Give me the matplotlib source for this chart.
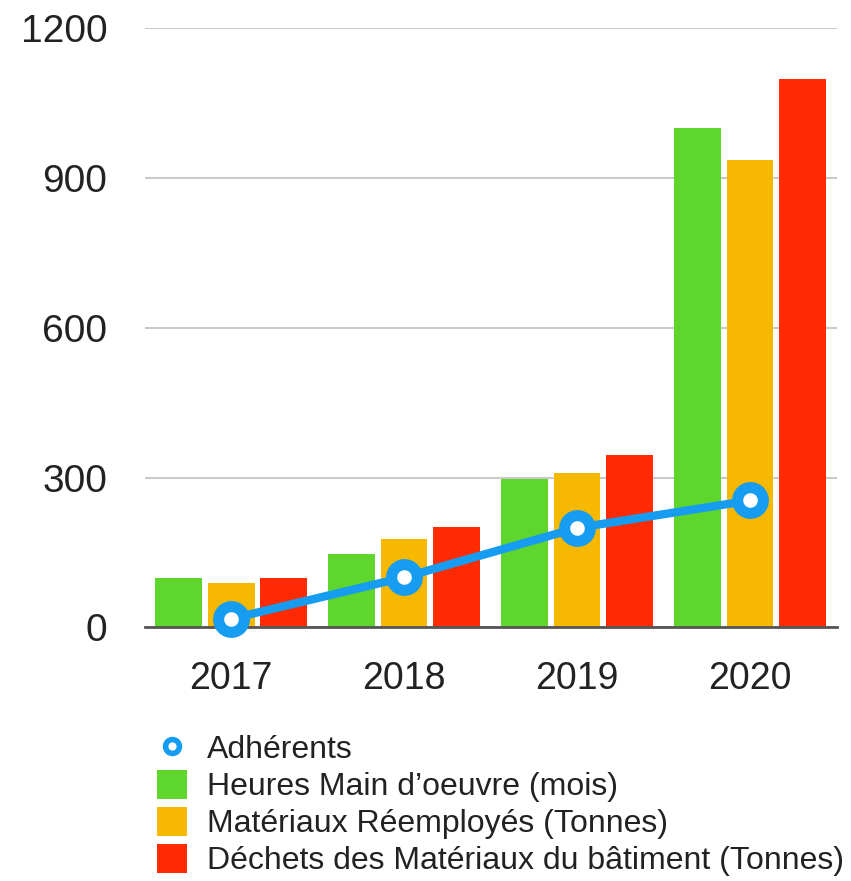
import matplotlib
matplotlib.use("Agg")
import matplotlib.pyplot as plt
from matplotlib.lines import Line2D
import numpy as np

plt.rcParams['font.family'] = ['Liberation Sans', 'DejaVu Sans']

years = ["2017", "2018", "2019", "2020"]
heures = [98, 147, 298, 1000]
materiaux = [88, 176, 310, 936]
dechets = [99, 200, 346, 1099]
adherents = [17, 100, 199, 254]
series_labels = ["Heures Main d\u2019oeuvre (mois)",
                 "Matériaux Réemployés (Tonnes)",
                 "Déchets des Matériaux du bâtiment (Tonnes)"]
line_label = "Adhérents"
yticks = [0, 300, 600, 900, 1200]

green, orange, red, blue = "#5ed62e", "#f6b800", "#ff2a00", "#169cf0"

fig = plt.figure(figsize=(8.51, 8.81), dpi=100)
ax = fig.add_axes([0.170, 0.288, 0.813, 0.680])

x = np.arange(len(years))
w = 0.27
off = 0.303
b1 = ax.bar(x - off, heures, w, color=green, zorder=2)
b2 = ax.bar(x, materiaux, w, color=orange, zorder=2)
b3 = ax.bar(x + off, dechets, w, color=red, zorder=2)
ax.plot(x, adherents, color=blue, lw=6, marker='o', ms=18.5, mew=8,
        mfc='white', mec=blue, zorder=4, clip_on=False)

ax.set_xlim(-0.5, 3.5)
ax.set_ylim(0, 1200)
ax.set_yticks(yticks)
ax.set_yticklabels([str(v) for v in yticks])
ax.set_xticks(x)
ax.set_xticklabels(years)
ax.yaxis.grid(True, color="#c9c9c9", lw=1.5, zorder=0)
ax.set_axisbelow(True)
for s in ["left", "right", "top"]:
    ax.spines[s].set_visible(False)
ax.spines["bottom"].set_color("#555555")
ax.spines["bottom"].set_linewidth(2)
ax.spines["bottom"].set_zorder(3)
ax.tick_params(axis='y', length=0, pad=27, labelsize=28, labelcolor="#222222")
ax.tick_params(axis='x', length=0, pad=24, labelsize=27, labelcolor="#222222")

proxy = Line2D([], [], linestyle='none', marker='o', ms=10, mew=4,
               mfc='white', mec=blue)
handles = [proxy, b1, b2, b3]
labels = [line_label] + series_labels
fig.legend(handles, labels, loc='upper left', bbox_to_anchor=(0.1845, 0.168),
           frameon=False, fontsize=23, handlelength=0.94, handleheight=1.0,
           handletextpad=0.63, labelspacing=0.15, borderpad=0, borderaxespad=0,
           labelcolor="#222222")

fig.savefig("out.png", dpi=100)
